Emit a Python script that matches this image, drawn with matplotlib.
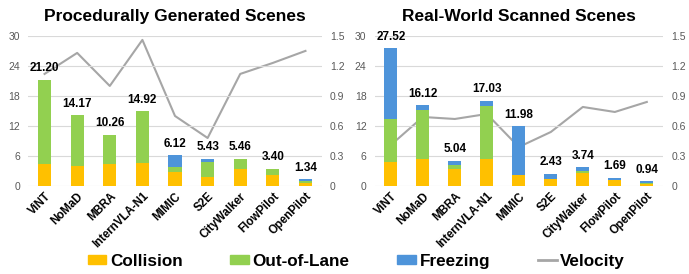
import matplotlib
matplotlib.use("Agg")
import matplotlib.pyplot as plt
import numpy as np
from matplotlib.lines import Line2D
from matplotlib.patches import Patch

plt.rcParams["font.family"] = ["Liberation Sans", "DejaVu Sans"]

methods = ["ViNT", "NoMaD", "MBRA", "InternVLA-N1", "MIMIC", "S2E",
           "CityWalker", "FlowPilot", "OpenPilot"]

# Procedurally generated scenes
proc_collision = [4.33, 4.07, 4.33, 4.60, 2.85, 1.83, 3.46, 2.27, 0.67]
proc_out_of_lane = [16.87, 10.10, 5.93, 10.32, 0.96, 3.03, 2.00, 1.13, 0.28]
proc_freezing = [0.00, 0.00, 0.00, 0.00, 2.31, 0.57, 0.00, 0.00, 0.39]
proc_totals = [21.20, 14.17, 10.26, 14.92, 6.12, 5.43, 5.46, 3.40, 1.34]
proc_velocity = [1.12, 1.33, 1.00, 1.46, 0.70, 0.48, 1.12, 1.23, 1.35]

# Real-world scanned scenes
real_collision = [4.87, 5.47, 3.47, 5.47, 2.20, 1.40, 2.60, 1.20, 0.50]
real_out_of_lane = [8.45, 9.73, 0.67, 10.53, 0.00, 0.00, 0.47, 0.05, 0.06]
real_freezing = [14.20, 0.92, 0.90, 1.03, 9.78, 1.03, 0.67, 0.44, 0.38]
real_totals = [27.52, 16.12, 5.04, 17.03, 11.98, 2.43, 3.74, 1.69, 0.94]
real_velocity = [0.41, 0.69, 0.67, 0.72, 0.39, 0.54, 0.79, 0.74, 0.84]

COLLISION_COLOR = "#FFC000"
OOL_COLOR = "#92D050"
FREEZE_COLOR = "#4E94DA"
VEL_COLOR = "#A6A6A6"
GRID_COLOR = "#D9D9D9"
TICK_COLOR = "#595959"

fig = plt.figure(figsize=(6.89, 2.74), dpi=100)


def draw_panel(rect, title, collision, ool, freezing, totals, velocity):
    ax = fig.add_axes(rect)
    x = np.arange(len(methods))
    w = 0.4
    c = np.array(collision)
    o = np.array(ool)
    f = np.array(freezing)
    ax.bar(x, c, w, color=COLLISION_COLOR, zorder=2)
    ax.bar(x, o, w, bottom=c, color=OOL_COLOR, zorder=2)
    ax.bar(x, f, w, bottom=c + o, color=FREEZE_COLOR, zorder=2)
    for xi, top, tot in zip(x, c + o + f, totals):
        ax.annotate(f"{tot:.2f}", (xi, top), xytext=(0, 4),
                    textcoords="offset points", ha="center", va="bottom",
                    fontsize=8.5, fontweight="bold", annotation_clip=False,
                    zorder=5)

    ax.set_xlim(-0.5, len(methods) - 0.5)
    ax.set_ylim(0, 30)
    ax.set_yticks(np.arange(0, 31, 6))
    ax.grid(axis="y", color=GRID_COLOR, lw=0.8, zorder=0)
    ax.set_axisbelow(True)
    ax.set_xticks(x)
    ax.set_xticklabels(methods, rotation=45, ha="right",
                       rotation_mode="anchor", fontsize=8.3, fontweight="bold")
    ax.tick_params(axis="both", length=0)
    ax.tick_params(axis="y", labelsize=7.5, labelcolor=TICK_COLOR, pad=6)
    ax.tick_params(axis="x", pad=3)
    for s in ax.spines.values():
        s.set_visible(False)
    ax.set_title(title, fontsize=12.5, fontweight="bold", pad=11)

    ax2 = ax.twinx()
    ax2.plot(x, velocity, color=VEL_COLOR, lw=1.5, zorder=3)
    ax2.set_ylim(0, 1.5)
    ax2.set_yticks([0, 0.3, 0.6, 0.9, 1.2, 1.5])
    ax2.set_yticklabels(["0", "0.3", "0.6", "0.9", "1.2", "1.5"])
    ax2.tick_params(axis="y", length=0, labelsize=7.5, labelcolor=TICK_COLOR,
                    pad=6)
    for s in ax2.spines.values():
        s.set_visible(False)
    ax.set_zorder(ax2.get_zorder() + 1)
    ax.patch.set_visible(False)
    return ax


draw_panel([0.041, 0.321, 0.426, 0.548], "Procedurally Generated Scenes",
           proc_collision, proc_out_of_lane, proc_freezing, proc_totals,
           proc_velocity)
draw_panel([0.544, 0.321, 0.418, 0.548], "Real-World Scanned Scenes",
           real_collision, real_out_of_lane, real_freezing, real_totals,
           real_velocity)

handles = [
    Patch(color=COLLISION_COLOR, label="Collision"),
    Patch(color=OOL_COLOR, label="Out-of-Lane"),
    Patch(color=FREEZE_COLOR, label="Freezing"),
    Line2D([], [], color=VEL_COLOR, lw=2, label="Velocity"),
]
fig.legend(handles=handles, loc="center", bbox_to_anchor=(0.517, 0.047),
           ncol=4, frameon=False, prop={"size": 12.3, "weight": "bold"},
           handlelength=1.1, handleheight=0.5, handletextpad=0.2,
           columnspacing=2.8)

fig.savefig("out.png", dpi=100)
